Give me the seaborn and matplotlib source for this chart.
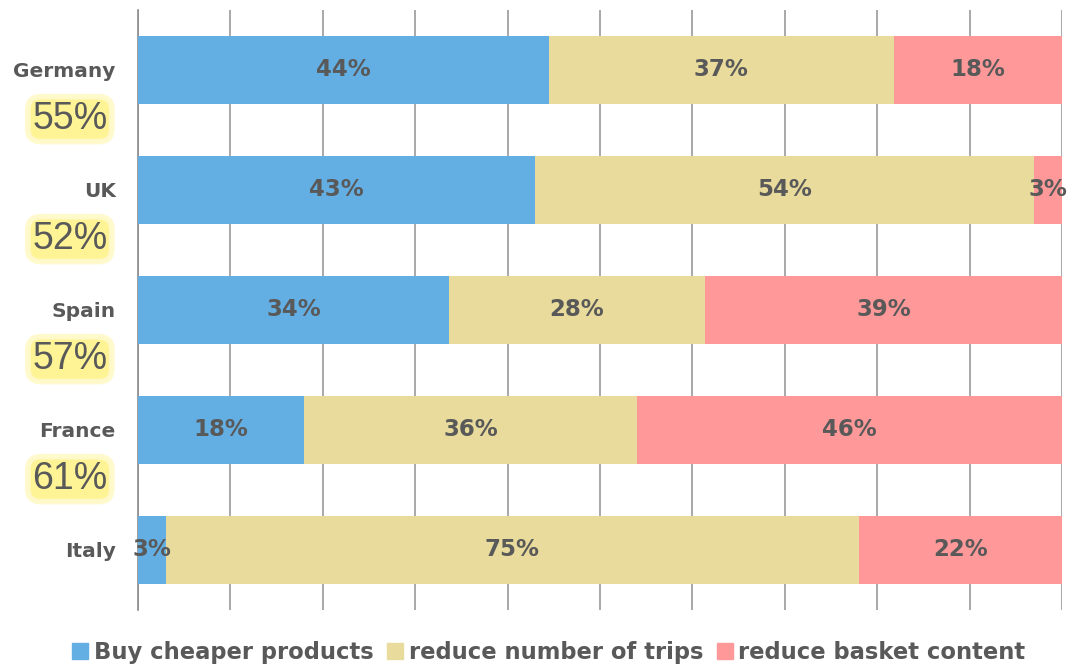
import numpy as np
import pandas as pd
import matplotlib
matplotlib.use("Agg")
import matplotlib.pyplot as plt
from matplotlib.lines import Line2D
import seaborn as sns

countries = ["Germany", "UK", "Spain", "France", "Italy"]
cheaper = [44, 43, 34, 18, 3]
trips = [37, 54, 28, 36, 75]
basket = [18, 3, 39, 46, 22]
overall = ["55%", "52%", "57%", "61%", ""]
series_names = ["Buy cheaper products", "reduce number of trips", "reduce basket content"]
colors = ["#63AFE3", "#E8DB9B", "#FF9999"]

sns.set_style("white")
plt.rcParams['font.family'] = ['DejaVu Sans']

df = pd.DataFrame({"country": countries, "a": cheaper, "b": trips, "c": basket})
tot = df[["a", "b", "c"]].sum(axis=1)
df["c1"] = df["a"] / tot
df["c2"] = (df["a"] + df["b"]) / tot
df["c3"] = (df["a"] + df["b"] + df["c"]) / tot

fig = plt.figure(figsize=(10.67, 6.66), dpi=100)
ax = fig.add_axes([0.1293, 0.0841, 0.866, 0.901])

for col, color in zip(["c3", "c2", "c1"], colors[::-1]):
    sns.barplot(data=df, x=col, y="country", orient="h", color=color,
                width=0.57, saturation=1, ax=ax, zorder=3, linewidth=0)

ax.set_xlim(0, 1)
ax.set_ylim(4.5, -0.5)
ax.set_xlabel("")
ax.set_ylabel("")
ax.set_xticks(np.arange(0, 1.01, 0.1))
ax.set_xticklabels([])
ax.tick_params(axis="x", length=0)
ax.grid(axis="x", color="#999999", linewidth=1.2, zorder=0)
ax.set_axisbelow(True)
ax.set_yticks(np.arange(-0.5, 4.6, 1.0))
ax.set_yticklabels([])
ax.tick_params(axis="y", length=6, width=1.2, color="#8c8c8c", direction="out")
for s in ["top", "right", "bottom"]:
    ax.spines[s].set_visible(False)
ax.spines["left"].set_color("#8c8c8c")
ax.spines["left"].set_linewidth(1.2)

txt_color = "#595959"
for i, row in df.iterrows():
    starts = [0, row["c1"], row["c2"]]
    ends = [row["c1"], row["c2"], row["c3"]]
    vals = [row["a"], row["b"], row["c"]]
    for s, e, v in zip(starts, ends, vals):
        ax.text((s + e) / 2, i, f"{v}%", ha="center", va="center",
                fontsize=16.5, fontweight="bold", color=txt_color, zorder=5)
    ax.text(-0.024, i + 0.01, row["country"], ha="right", va="center",
            fontsize=14.5, fontweight="bold", color=txt_color, clip_on=False)
    if overall[i]:
        ax.text(-0.033, i + 0.41, overall[i], ha="right", va="center",
                fontsize=27, family="Liberation Sans", color=txt_color, clip_on=False,
                bbox=dict(boxstyle="round,pad=0.12,rounding_size=0.35", fc="#FFF48F",
                          ec="#FFF9CC", lw=4, alpha=0.95))

handles = [Line2D([0], [0], marker="s", linestyle="", markersize=11,
                  markerfacecolor=c, markeredgecolor=c) for c in colors]
leg = fig.legend(handles, series_names, loc="lower center", ncol=3, frameon=False,
                 bbox_to_anchor=(0.513, -0.028), handletextpad=0.1, columnspacing=0.45,
                 handlelength=1.0, prop={"size": 16.3, "weight": "bold"})
for t in leg.get_texts():
    t.set_color(txt_color)

fig.savefig("out.png", dpi=100)
